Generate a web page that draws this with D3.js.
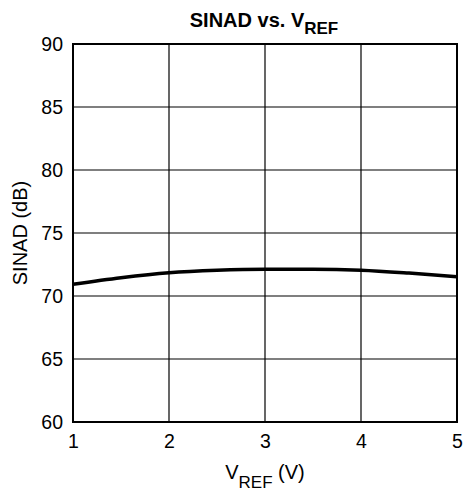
<!DOCTYPE html>
<html><head><meta charset="utf-8">
<script src="https://cdn.jsdelivr.net/npm/d3@7"></script>
<style>body{margin:0;background:#fff}text{font-family:"Liberation Sans",Arial,sans-serif;fill:#000}</style>
</head><body><svg id="c" width="464" height="492"></svg>
<script>
const vref = [1, 1.5, 2, 2.5, 3, 3.5, 4, 4.5, 5];
const sinad = [70.93, 71.45, 71.85, 72.05, 72.13, 72.13, 72.05, 71.82, 71.53];
const xTicks = [1, 2, 3, 4, 5];
const yTicks = [60, 65, 70, 75, 80, 85, 90];

const svg = d3.select("#c");
const L = 73, R = 457, T = 44, B = 422;
const x = d3.scaleLinear().domain([1, 5]).range([L, R]);
const y = d3.scaleLinear().domain([60, 90]).range([B, T]);

// grid
svg.append("g").selectAll("line").data(xTicks).join("line")
  .attr("x1", d => x(d)).attr("x2", d => x(d)).attr("y1", T).attr("y2", B)
  .attr("stroke", "#000").attr("stroke-width", 1.2);
svg.append("g").selectAll("line").data(yTicks).join("line")
  .attr("x1", L).attr("x2", R).attr("y1", d => y(d)).attr("y2", d => y(d))
  .attr("stroke", "#000").attr("stroke-width", 1.2);
svg.append("rect").attr("x", L).attr("y", T).attr("width", R - L).attr("height", B - T)
  .attr("fill", "none").attr("stroke", "#000").attr("stroke-width", 2);

// axes labels
const yAxis = d3.axisLeft(y).tickValues(yTicks).tickSize(0).tickPadding(10);
const gy = svg.append("g").attr("transform", `translate(${L},0)`).call(yAxis);
gy.select(".domain").remove();
gy.selectAll("text").style("font-size", "19.5px").attr("font-family", null);

const xAxis = d3.axisBottom(x).tickValues(xTicks).tickSize(0).tickPadding(12).tickFormat(d3.format("d"));
const gx = svg.append("g").attr("transform", `translate(0,${B})`).call(xAxis);
gx.select(".domain").remove();
gx.selectAll("text").style("font-size", "19.5px").attr("font-family", null);

// curve
const line = d3.line().x((d, i) => x(vref[i])).y(d => y(d)).curve(d3.curveMonotoneX);
svg.append("path").attr("d", line(sinad)).attr("fill", "none")
  .attr("stroke", "#000").attr("stroke-width", 3.5);

// title
const t = svg.append("text").attr("x", 264).attr("y", 27).attr("text-anchor", "middle")
  .style("font-size", "20px").style("font-weight", "bold");
t.append("tspan").text("SINAD vs. V");
t.append("tspan").text("REF").attr("dy", 7).style("font-size", "17px");

// x title
const xt = svg.append("text").attr("x", 265).attr("y", 479).attr("text-anchor", "middle")
  .style("font-size", "20px");
xt.append("tspan").text("V");
xt.append("tspan").text("REF").attr("dy", 9).style("font-size", "17px");
xt.append("tspan").text(" (V)").attr("dy", -9);

// y title
svg.append("text").attr("transform", `translate(27,${(T + B) / 2}) rotate(-90)`)
  .attr("text-anchor", "middle").style("font-size", "20px").text("SINAD (dB)");
</script></body></html>
